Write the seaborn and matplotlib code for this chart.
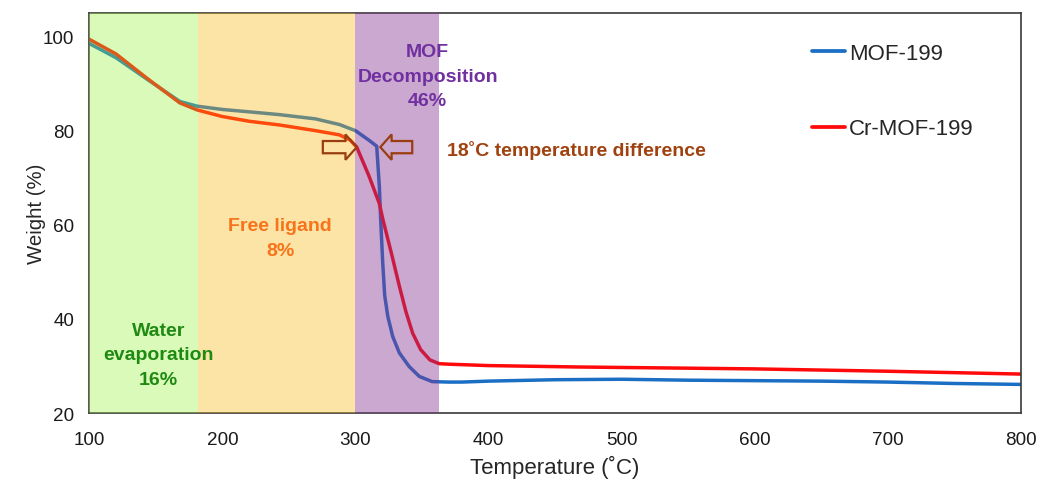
import numpy as np
import pandas as pd
import matplotlib
matplotlib.use("Agg")
import matplotlib.pyplot as plt
from matplotlib.patches import FancyArrow
import seaborn as sns

# ---- data ----
mof_temp = [100, 120, 143, 168, 181, 200, 220, 243, 270, 288, 300, 310, 316, 318, 319, 320.5, 322,
            324.3, 328, 333, 340.4, 348, 357.6, 370, 380, 400, 450, 500, 550, 600, 650, 700, 750, 800]
mof_weight = [98.5, 95.5, 91.0, 86.2, 85.2, 84.5, 84.0, 83.4, 82.5, 81.3, 80.0, 78.0, 76.7, 68.0, 61.0, 52.0, 45.0,
              40.6, 36.3, 32.8, 29.9, 27.8, 26.7, 26.6, 26.6, 26.8, 27.1, 27.2, 27.0, 26.9, 26.8, 26.6, 26.3, 26.1]

cr_temp = [100, 120, 143, 168, 181, 200, 220, 243, 270, 288, 296, 301, 310, 318, 320.5, 327, 333,
           338, 343, 349, 356, 363, 370, 400, 468, 500, 600, 700, 800]
cr_weight = [99.4, 96.3, 91.2, 85.9, 84.4, 83.0, 82.0, 81.2, 80.0, 79.1, 78.0, 76.5, 70.5, 64.5, 61.3, 54.0, 47.0,
             41.5, 37.0, 33.5, 31.3, 30.5, 30.4, 30.1, 29.8, 29.7, 29.4, 28.9, 28.3]

series_names = ["MOF-199", "Cr-MOF-199"]
region_edges = [100, 181.7, 300, 363]          # water / free ligand / MOF decomposition
onset_cr, onset_mof = 301, 318.7               # decomposition onsets (18 ˚C apart)
onset_weight = 76.5

x_ticks = [100, 200, 300, 400, 500, 600, 700, 800]
y_ticks = [20, 40, 60, 80, 100]

df = pd.concat([
    pd.DataFrame({"Temperature": mof_temp, "Weight": mof_weight, "Sample": series_names[0]}),
    pd.DataFrame({"Temperature": cr_temp, "Weight": cr_weight, "Sample": series_names[1]}),
], ignore_index=True)

# ---- style ----
sns.set_theme(style="white")
plt.rcParams["font.family"] = ["Liberation Sans", "DejaVu Sans"]

fig = plt.figure(figsize=(10.4, 4.81), dpi=100)
ax = fig.add_axes([0.0859, 0.139, 0.8955, 0.832])

palette = {series_names[0]: "#1a6fc4", series_names[1]: "#ff0a0a"}
sns.lineplot(data=df, x="Temperature", y="Weight", hue="Sample", palette=palette,
             estimator=None, sort=False, linewidth=2.5, ax=ax, zorder=2)

# shaded regions (translucent, drawn over the curves)
ax.axvspan(region_edges[0], region_edges[1], color="#97f23a", alpha=0.35, lw=0, zorder=3)
ax.axvspan(region_edges[1], region_edges[2], color="#f9b810", alpha=0.37, lw=0, zorder=3)
ax.axvspan(region_edges[2], region_edges[3], color="#863590", alpha=0.43, lw=0, zorder=3)

ax.set_xlim(100, 800)
ax.set_ylim(20, 105)
ax.set_xticks(x_ticks)
ax.set_yticks(y_ticks)
ax.tick_params(axis="both", length=0, labelsize=13.6, colors="#1a1a1a")
ax.tick_params(axis="x", pad=12.5)
ax.tick_params(axis="y", pad=11)
ax.set_xlabel("Temperature (˚C)", fontsize=16, labelpad=5)
ax.set_ylabel("Weight (%)", fontsize=14.7, labelpad=-2.5)
for s in ax.spines.values():
    s.set_visible(True)
    s.set_color("#3a3a3a")
    s.set_linewidth(1.2)

# annotations
bold = dict(fontweight="bold", fontsize=14, ha="center", va="center", linespacing=1.58, zorder=5)
ax.text(152.0, 32.4, "Water\nevaporation\n16%", color="#1f8a12", **bold)
ax.text(243.5, 57.2, "Free ligand\n8%", color="#f7741a", **bold)
ax.text(354.4, 91.6, "MOF\nDecomposition\n46%", color="#7030a0", **bold)
ax.text(368.5, 76.1, "18˚C temperature difference", color="#a0420f",
        fontweight="bold", fontsize=14, ha="left", va="center", zorder=5)

arrow_kw = dict(width=2.6, head_width=5.4, head_length=8.5, length_includes_head=True,
                facecolor="none", edgecolor="#9a3d10", linewidth=1.6, zorder=6)
ax.add_patch(FancyArrow(onset_cr - 25.5, onset_weight, 25.5, 0, **arrow_kw))
ax.add_patch(FancyArrow(onset_mof + 24, onset_weight, -24, 0, **arrow_kw))

leg = ax.legend(loc="upper left", bbox_to_anchor=(0.776, 0.925), frameon=False, fontsize=16,
                handlelength=1.5, handletextpad=0.18, labelspacing=2.45, borderpad=0, borderaxespad=0)
for line in leg.get_lines():
    line.set_linewidth(2.7)
leg.set_title(None)

fig.savefig("out.png", dpi=100, facecolor="white")
